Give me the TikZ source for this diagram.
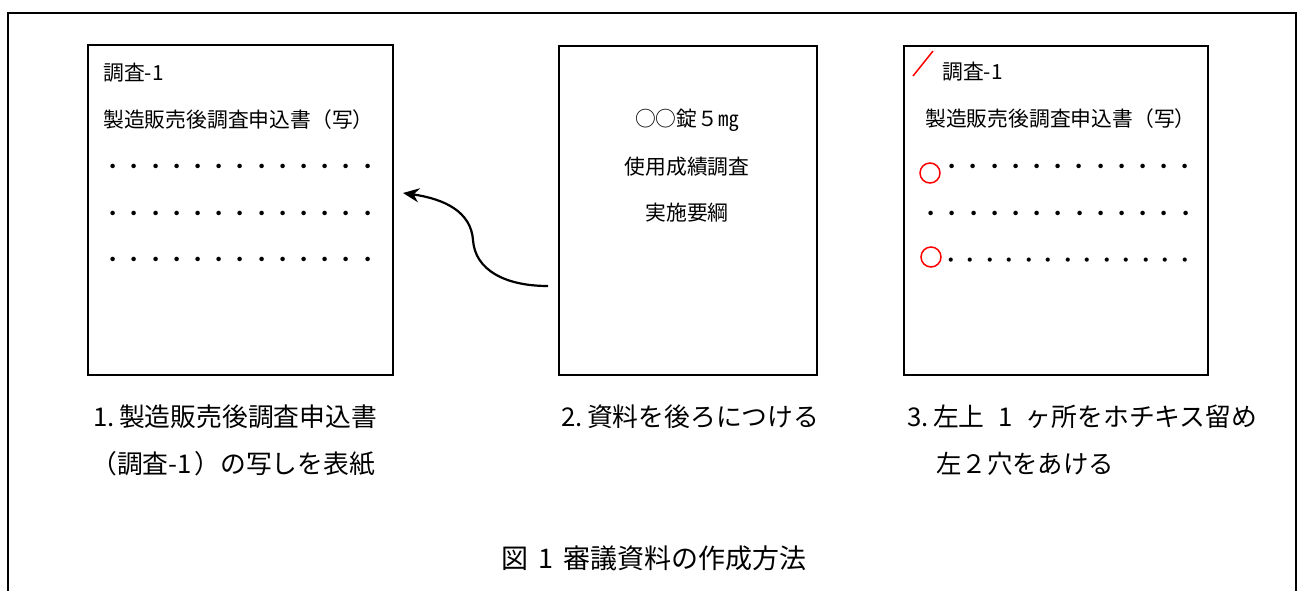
\documentclass[tikz,border=0pt]{standalone}
\usepackage{fontspec}
\setmainfont{Noto Sans CJK JP}
\usetikzlibrary{arrows.meta}
\tikzset{
  frameline/.style={line width=1.8pt, black},
  pagebox/.style={draw, line width=1.8pt, anchor=north west, inner sep=0pt},
  smalltxt/.style={anchor=base west, inner sep=0pt, font=\fontsize{20.8}{24}\selectfont},
  smallmid/.style={anchor=base, inner sep=0pt, font=\fontsize{20.8}{24}\selectfont},
  dotrow/.style={anchor=base west, inner sep=0pt, font=\fontsize{21.2}{24}\selectfont},
  bigtxt/.style={anchor=base west, inner sep=0pt, font=\fontsize{25.8}{30}\selectfont},
  capt/.style={anchor=base west, inner sep=0pt, font=\fontsize{27}{30}\selectfont},
  redmark/.style={draw=red, line width=1.5pt},
  flowarrow/.style={line width=2.2pt, -{Stealth[length=16pt,width=14pt]}}
}
\newcommand{\halfnum}[1]{\makebox[1em][l]{#1}}
\begin{document}
\begin{tikzpicture}[x=1pt,y=-1pt]
\useasboundingbox (0,0) rectangle (1304,590);
\fill[white] (0,0) rectangle (1304,590);
% outer frame (open at the bottom edge of the picture)
\draw[frameline] (8,600) -- (8,13) -- (1296,13) -- (1296,600);

% three sheets
\node[pagebox, minimum width=305pt, minimum height=330pt] (p1) at (87,44) {};
\node[pagebox, minimum width=258pt, minimum height=329pt] (p2) at (558,45) {};
\node[pagebox, minimum width=304pt, minimum height=329pt] (p3) at (903,45) {};

% sheet 1
\node[smalltxt] (t1a) at (103,80.8) {調査\makebox[1em][l]{-1}};
\node[smalltxt] (t1b) at (103,127.8) {製造販売後調査申込書（写）};
\node[dotrow] (d1a) at (102.4,174) {・・・・・・・・・・・・・};
\node[dotrow] (d1b) at (102.4,221) {・・・・・・・・・・・・・};
\node[dotrow] (d1c) at (102.4,267) {・・・・・・・・・・・・・};

% sheet 2
\node[smallmid] (t2a) at (687,126.8) {○○錠５㎎};
\node[smallmid] (t2b) at (687,174.8) {使用成績調査};
\node[smallmid] (t2c) at (687,220.8) {実施要綱};

% sheet 3
\draw[redmark] (913,76) -- (933,51);
\node[smalltxt] (t3a) at (942,79.8) {調査\makebox[1em][l]{-1}};
\node[smalltxt] (t3b) at (925,126.8) {製造販売後調査申込書（写）};
\node[dotrow] (d3a) at (941.4,174) {・・・・・・・・・・・・};
\node[dotrow] (d3b) at (920.4,221) {・・・・・・・・・・・・・};
\node[dotrow, font=\fontsize{19.5}{24}\selectfont] (d3c) at (941.2,267.4) {・・・・・・・・・・・・・};
\node[redmark, circle, minimum size=20pt, inner sep=0pt] (h1) at (930,173) {};
\node[redmark, circle, minimum size=20pt, inner sep=0pt] (h2) at (931,257) {};

% arrow from sheet 2 to sheet 1
\coordinate (as) at (548,286);
\coordinate (am) at (473,240);
\coordinate (ae) at (403,193);
\draw[flowarrow] (as) .. controls (505,286) and (475,270) .. (am)
  .. controls (471,212) and (445,199) .. (ae);

% captions
\node[bigtxt] (c1a) at (93,426.8) {\halfnum{1.}製造販売後調査申込書};
\node[bigtxt] (c1b) at (91,473.8) {（調査\halfnum{-1}）の写しを表紙};
\node[bigtxt] (c2) at (561,426.8) {\halfnum{2.}資料を後ろにつける};
\node[bigtxt] (c3a) at (907,426.8) {\halfnum{3.}左上\makebox[1.6em]{1}ヶ所をホチキス留め};
\node[bigtxt, font=\fontsize{25.4}{30}\selectfont] (c3b) at (936,473.6) {左２穴をあける};
\node[capt] (fig) at (501,568.3) {図\makebox[1.3em]{1}審議資料の作成方法};
\end{tikzpicture}
\end{document}
